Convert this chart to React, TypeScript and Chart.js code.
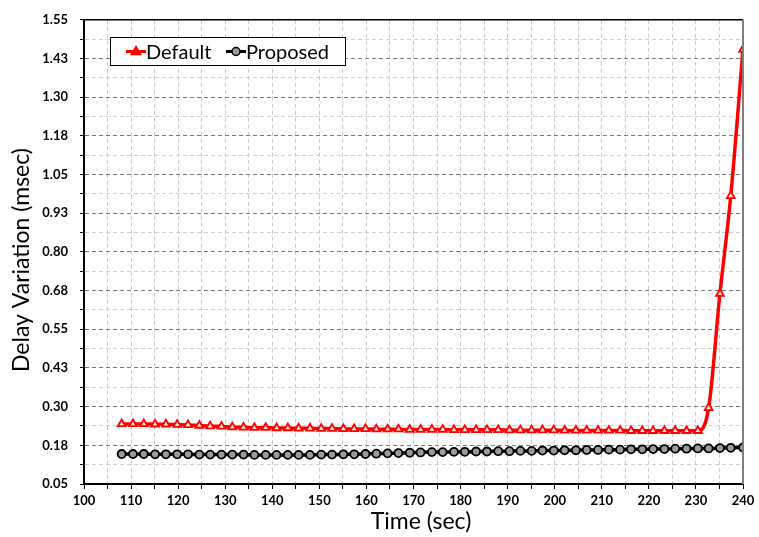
import { useEffect, useRef } from 'react';
import { Chart, registerables } from 'chart.js';

Chart.register(...registerables);

const timeSec = [
  108.0, 110.4, 112.7, 115.1, 117.4, 119.8, 122.1, 124.5, 126.8, 129.2,
  131.5, 133.9, 136.2, 138.6, 140.9, 143.3, 145.6, 148.0, 150.4, 152.7,
  155.1, 157.4, 159.8, 162.1, 164.5, 166.8, 169.2, 171.5, 173.9, 176.2,
  178.6, 180.9, 183.3, 185.6, 188.0, 190.4, 192.7, 195.1, 197.4, 199.8,
  202.1, 204.5, 206.8, 209.2, 211.5, 213.9, 216.2, 218.6, 220.9, 223.3,
  225.6, 228.0, 230.4, 232.7, 235.1, 237.4, 240.0,
];

const defaultDelay = [
  0.244, 0.244, 0.244, 0.243, 0.243, 0.242, 0.241, 0.239, 0.237, 0.236, 0.234,
  0.233, 0.232, 0.232, 0.231, 0.231, 0.230, 0.230, 0.229, 0.229, 0.228,
  0.228, 0.228, 0.227, 0.227, 0.227, 0.226, 0.226, 0.226, 0.226, 0.225,
  0.225, 0.225, 0.225, 0.225, 0.224, 0.224, 0.224, 0.224, 0.224, 0.223,
  0.223, 0.223, 0.223, 0.223, 0.223, 0.222, 0.222, 0.222, 0.222, 0.222,
  0.222, 0.222, 0.296, 0.665, 0.981, 1.454,
];

const proposedDelay = [
  0.147, 0.147, 0.147, 0.146, 0.146, 0.146, 0.146, 0.145, 0.145, 0.145, 0.145,
  0.145, 0.144, 0.144, 0.144, 0.144, 0.144, 0.144, 0.145, 0.145, 0.146,
  0.146, 0.147, 0.148, 0.149, 0.150, 0.151, 0.152, 0.153,
  0.153, 0.154, 0.154, 0.155, 0.155, 0.156, 0.156, 0.157,
  0.157, 0.158, 0.158, 0.159, 0.159, 0.160, 0.160, 0.161,
  0.161, 0.162, 0.162, 0.163, 0.163, 0.164,
  0.164, 0.165, 0.165, 0.166, 0.167, 0.168,
];

const yTickLabels = ['0.05', '0.18', '0.30', '0.43', '0.55', '0.68', '0.80', '0.93', '1.05', '1.18', '1.30', '1.43', '1.55'];
const seriesNames = ['Default', 'Proposed'];
const xTitle = 'Time (sec)';
const yTitle = 'Delay Variation (msec)';

const FONT = 'Lato, "DejaVu Sans", sans-serif';

const framePlugin = {
  id: 'frameAndLegend',
  afterDraw(chart: any) {
    const { ctx, chartArea } = chart;
    const { left, right, top, bottom } = chartArea;
    ctx.save();
    // top border
    ctx.strokeStyle = '#000';
    ctx.lineWidth = 1.5;
    ctx.beginPath();
    ctx.moveTo(left, top);
    ctx.lineTo(right, top);
    ctx.stroke();
    // right border
    ctx.strokeStyle = '#7f7f7f';
    ctx.lineWidth = 2;
    ctx.beginPath();
    ctx.moveTo(right, top);
    ctx.lineTo(right, bottom);
    ctx.stroke();

    // axis titles
    ctx.fillStyle = '#000';
    ctx.font = '23px ' + FONT;
    ctx.textAlign = 'center';
    ctx.textBaseline = 'middle';
    ctx.fillText(xTitle, 421, 522);
    ctx.save();
    ctx.translate(22, 260);
    ctx.rotate(-Math.PI / 2);
    ctx.fillText(yTitle, 0, 0);
    ctx.restore();

    // legend box
    const bx = 110, by = 37, bw = 235, bh = 28;
    ctx.fillStyle = '#fff';
    ctx.fillRect(bx, by, bw, bh);
    ctx.strokeStyle = '#000';
    ctx.lineWidth = 1;
    ctx.strokeRect(bx + 0.5, by + 0.5, bw, bh);
    const cy = by + bh / 2 + 0.5;
    const items = [
      { x0: 126, x1: 146, color: '#ff0000', style: 'triangle', fill: '#ff0000', r: 5, tx: 146 },
      { x0: 226, x1: 246, color: '#000000', style: 'circle', fill: '#9a9a9a', r: 4, tx: 246 },
    ];
    items.forEach((it, i) => {
      ctx.strokeStyle = it.color;
      ctx.lineWidth = 3;
      ctx.beginPath();
      ctx.moveTo(it.x0, cy);
      ctx.lineTo(it.x1, cy);
      ctx.stroke();
      ctx.fillStyle = it.fill;
      ctx.strokeStyle = it.color;
      ctx.lineWidth = 1.5;
      ctx.beginPath();
      const mx = (it.x0 + it.x1) / 2;
      if (it.style === 'triangle') {
        const r = it.r;
        ctx.moveTo(mx, cy - r);
        ctx.lineTo(mx + r * 0.95, cy + r * 0.6);
        ctx.lineTo(mx - r * 0.95, cy + r * 0.6);
        ctx.closePath();
      } else {
        ctx.arc(mx, cy, it.r, 0, Math.PI * 2);
      }
      ctx.fill();
      ctx.stroke();
      ctx.fillStyle = '#000';
      ctx.font = '20px ' + FONT;
      ctx.textBaseline = 'middle';
      ctx.textAlign = 'left';
      ctx.fillText(seriesNames[i], it.tx, cy + 1);
    });
    ctx.restore();
  },
};

export default function App() {
  const ref = useRef<HTMLCanvasElement | null>(null);

  useEffect(() => {
    if (!ref.current) return;
    const chart = new Chart(ref.current, {
      type: 'line',
      data: {
        datasets: [
          {
            label: seriesNames[0],
            data: timeSec.map((x, i) => ({ x, y: defaultDelay[i] })),
            borderColor: '#ff0000',
            borderWidth: 3.5,
            pointStyle: 'triangle',
            pointRadius: 4.5,
            pointBorderWidth: 1.8,
            pointBackgroundColor: '#ffe0e0',
            pointBorderColor: '#ff0000',
            tension: 0.4,
            cubicInterpolationMode: 'monotone',
          },
          {
            label: seriesNames[1],
            data: timeSec.map((x, i) => ({ x, y: proposedDelay[i] })),
            borderColor: '#000000',
            borderWidth: 3.5,
            pointStyle: 'circle',
            pointRadius: 4,
            pointBorderWidth: 1.8,
            pointBackgroundColor: '#9a9a9a',
            pointBorderColor: '#000000',
            tension: 0.4,
            cubicInterpolationMode: 'monotone',
          },
        ],
      },
      options: {
        responsive: false,
        animation: false,
        layout: { padding: { top: 16, right: 16, left: 0, bottom: 0 } },
        plugins: { legend: { display: false }, tooltip: { enabled: false }, title: { display: false } },
        scales: {
          x: {
            type: 'linear',
            min: 100,
            max: 240,
            afterFit: (s: any) => { s.height = 53; },
            ticks: {
              stepSize: 5,
              autoSkip: false,
              maxRotation: 0,
              padding: 4,
              color: '#000',
              font: { family: FONT, size: 13, weight: 'bold' },
              callback: (v: any) => (Math.round(Number(v)) % 10 === 0 ? String(Math.round(Number(v))) : ''),
            },
            grid: {
              color: '#c8c8c8',
              lineWidth: 1,
              tickLength: 5,
              tickColor: '#000',
              tickBorderDash: [],
            },
            border: { display: true, color: '#000', width: 2, dash: [4, 3] },
            title: { display: false },
          },
          y: {
            type: 'linear',
            min: 0.05,
            max: 1.55,
            afterFit: (s: any) => { s.width = 84; },
            ticks: {
              stepSize: 0.0625,
              autoSkip: false,
              padding: 12,
              color: '#000',
              font: { family: FONT, size: 13, weight: 'bold' },
              callback: (_v: any, i: number) => (i % 2 === 0 ? yTickLabels[i / 2] : ''),
            },
            grid: {
              color: (c: any) => (c.index % 2 === 0 ? '#7a7a7a' : '#cfcfcf'),
              lineWidth: 1,
              tickLength: 4,
              tickColor: '#000',
              tickBorderDash: [],
            },
            border: { display: true, color: '#000', width: 2, dash: [4, 3] },
            title: { display: false },
          },
        },
      } as any,
      plugins: [framePlugin],
    });
    return () => chart.destroy();
  }, []);

  return (
    <div style={{ position: 'fixed', left: 0, top: 0, width: 759, height: 537, background: '#fff' }}>
      <canvas ref={ref} width={759} height={537} style={{ display: 'block' }} />
    </div>
  );
}
